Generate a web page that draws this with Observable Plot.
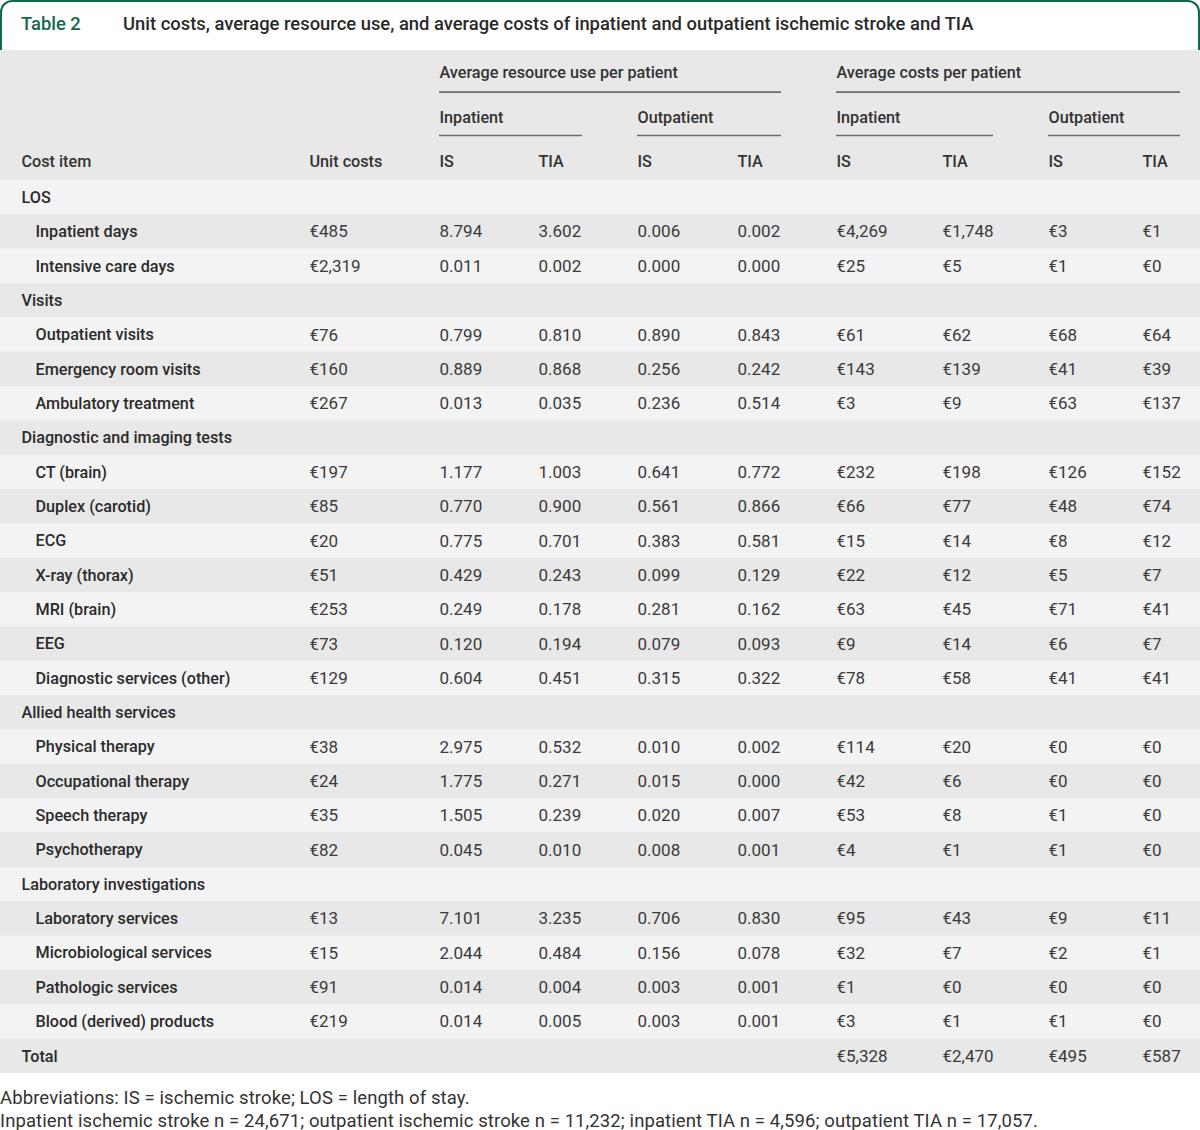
<!DOCTYPE html>
<html>
<head>
<meta charset="utf-8">
<script src="https://cdn.jsdelivr.net/npm/d3@7"></script>
<script src="https://cdn.jsdelivr.net/npm/@observablehq/plot@0.6"></script>
<style>
  html, body { margin: 0; padding: 0; background: #fff; }
  body { width: 1200px; font-family: Roboto, "Noto Sans", sans-serif; color: #333; }
  #title {
    box-sizing: border-box; width: 1200px; height: 50px;
    border: 2px solid #12694a; border-bottom: none;
    border-radius: 12px 12px 0 0;
    display: flex; align-items: flex-start; padding-top: 11px;
    font-size: 18.4px; font-weight: 500;
  }
  #title .num { color: #16694b; margin-left: 19px; width: 102px; }
  #title .txt { color: #2a2a2a; }
  #foot { font-size: 18.5px; line-height: 23px; color: #333; margin-top: 14px; font-weight: 400; letter-spacing: 0.1px; }
  svg { display: block; }
</style>
</head>
<body>
<div id="title"><span class="num">Table 2</span><span class="txt">Unit costs, average resource use, and average costs of inpatient and outpatient ischemic stroke and TIA</span></div>
<div id="chart"></div>
<div id="foot">Abbreviations: IS = ischemic stroke; LOS = length of stay.<br>Inpatient ischemic stroke n = 24,671; outpatient ischemic stroke n = 11,232; inpatient TIA n = 4,596; outpatient TIA n = 17,057.</div>
<script>
// ---------- data ----------
const groups = ["LOS", "Visits", "Diagnostic and imaging tests", "Allied health services", "Laboratory investigations"];
const groupSizes = [2, 3, 7, 4, 4];
const items = ["Inpatient days", "Intensive care days",
  "Outpatient visits", "Emergency room visits", "Ambulatory treatment",
  "CT (brain)", "Duplex (carotid)", "ECG", "X-ray (thorax)", "MRI (brain)", "EEG", "Diagnostic services (other)",
  "Physical therapy", "Occupational therapy", "Speech therapy", "Psychotherapy",
  "Laboratory services", "Microbiological services", "Pathologic services", "Blood (derived) products"];
const unitCosts = [485, 2319, 76, 160, 267, 197, 85, 20, 51, 253, 73, 129, 38, 24, 35, 82, 13, 15, 91, 219];
const useInIS  = [8.794, 0.011, 0.799, 0.889, 0.013, 1.177, 0.770, 0.775, 0.429, 0.249, 0.120, 0.604, 2.975, 1.775, 1.505, 0.045, 7.101, 2.044, 0.014, 0.014];
const useInTIA = [3.602, 0.002, 0.810, 0.868, 0.035, 1.003, 0.900, 0.701, 0.243, 0.178, 0.194, 0.451, 0.532, 0.271, 0.239, 0.010, 3.235, 0.484, 0.004, 0.005];
const useOutIS = [0.006, 0.000, 0.890, 0.256, 0.236, 0.641, 0.561, 0.383, 0.099, 0.281, 0.079, 0.315, 0.010, 0.015, 0.020, 0.008, 0.706, 0.156, 0.003, 0.003];
const useOutTIA= [0.002, 0.000, 0.843, 0.242, 0.514, 0.772, 0.866, 0.581, 0.129, 0.162, 0.093, 0.322, 0.002, 0.000, 0.007, 0.001, 0.830, 0.078, 0.001, 0.001];
const costInIS  = [4269, 25, 61, 143, 3, 232, 66, 15, 22, 63, 9, 78, 114, 42, 53, 4, 95, 32, 1, 3];
const costInTIA = [1748, 5, 62, 139, 9, 198, 77, 14, 12, 45, 14, 58, 20, 6, 8, 1, 43, 7, 0, 1];
const costOutIS = [3, 1, 68, 41, 63, 126, 48, 8, 5, 71, 6, 41, 0, 0, 1, 1, 9, 2, 0, 1];
const costOutTIA= [1, 0, 64, 39, 137, 152, 74, 12, 7, 41, 7, 41, 0, 0, 0, 0, 11, 1, 0, 0];
const totals = [5328, 2470, 495, 587];
const colHeaders = ["Cost item", "Unit costs", "IS", "TIA", "IS", "TIA", "IS", "TIA", "IS", "TIA"];
const spanHeaders = ["Average resource use per patient", "Average costs per patient"];
const subHeaders = ["Inpatient", "Outpatient", "Inpatient", "Outpatient"];

// ---------- layout ----------
const W = 1200;
const colX = [21, 309, 439, 538, 637, 737, 836, 942, 1048, 1142];
const indent = 14;
const spanExt = [[439, 781], [836, 1180]];
const subExt = [[439, 582], [637, 781], [836, 993], [1048, 1180]];
const FONT = "Roboto, 'Noto Sans', sans-serif";
const INK = "#333";
const LABEL_SIZE = 16.2;
const VALUE_SIZE = 17;

const eur = v => "€" + d3.format(",")(v);
const dec = v => d3.format(".3f")(v);

// build rows
const rows = [];
let k = 0;
groups.forEach((g, gi) => {
  rows.push({type: "group", label: g, vals: []});
  for (let j = 0; j < groupSizes[gi]; j++, k++) {
    rows.push({type: "item", label: items[k], vals: [
      eur(unitCosts[k]), dec(useInIS[k]), dec(useInTIA[k]), dec(useOutIS[k]), dec(useOutTIA[k]),
      eur(costInIS[k]), eur(costInTIA[k]), eur(costOutIS[k]), eur(costOutTIA[k])]});
  }
});
rows.push({type: "total", label: "Total", vals: ["", "", "", "", "", ...totals.map(eur)]});
rows.forEach((r, i) => r.i = i);

const labelCells = rows.map(r => ({i: r.i, x: colX[0] + (r.type === "item" ? indent : 0), text: r.label}));
const valueCells = [];
rows.forEach(r => r.vals.forEach((v, c) => { if (v) valueCells.push({i: r.i, x: colX[c + 1], text: v}); }));

// ---------- header plot ----------
const spanText = spanHeaders.map((t, j) => ({y: "span", x: spanExt[j][0], text: t}));
const subText = subHeaders.map((t, j) => ({y: "sub", x: subExt[j][0], text: t}));
const colText = colHeaders.map((t, j) => ({y: "col", x: colX[j], text: t}));
const hdrRules = [
  ...spanExt.map(e => ({y: "span", x1: e[0], x2: e[1]})),
  ...subExt.map(e => ({y: "sub", x1: e[0], x2: e[1]}))
];
const hdrStyle = {x: "x", y: "y", text: "text", textAnchor: "start", fontSize: LABEL_SIZE, fontWeight: 500, fill: INK};
const header = Plot.plot({
  width: W, height: 130,
  margin: 0,
  style: {background: "#e8e8e8", fontFamily: FONT},
  x: {domain: [0, W], axis: null},
  y: {type: "band", domain: ["span", "sub", "col"], padding: 0, round: false, axis: null},
  marks: [
    Plot.ruleY(hdrRules, {y: "y", x1: "x1", x2: "x2", dy: 20, stroke: "#6b6b6b", strokeWidth: 1.6}),
    Plot.text(spanText, {...hdrStyle, dy: 1}),
    Plot.text(subText, {...hdrStyle, dy: 2}),
    Plot.text(colText, {...hdrStyle, dy: 3})
  ]
});

// ---------- body plot ----------
const body = Plot.plot({
  width: W, height: 893,
  margin: 0,
  style: {background: "#f3f3f3", fontFamily: FONT},
  x: {domain: [0, W], axis: null},
  y: {type: "band", domain: rows.map(r => r.i), padding: 0, round: false, axis: null},
  marks: [
    Plot.barX(rows, {x1: 0, x2: W, y: "i", fill: d => d.i % 2 ? "#e8e8e8" : "#f3f3f4"}),
    Plot.text(labelCells, {x: "x", y: "i", text: "text", textAnchor: "start", fontSize: LABEL_SIZE, fontWeight: 500, fill: "#2b2b2b"}),
    Plot.text(valueCells, {x: "x", y: "i", text: "text", textAnchor: "start", fontSize: VALUE_SIZE, fontWeight: 400, fill: "#3a3a3a"})
  ]
});

document.getElementById("chart").append(header, body);
</script>
</body>
</html>
